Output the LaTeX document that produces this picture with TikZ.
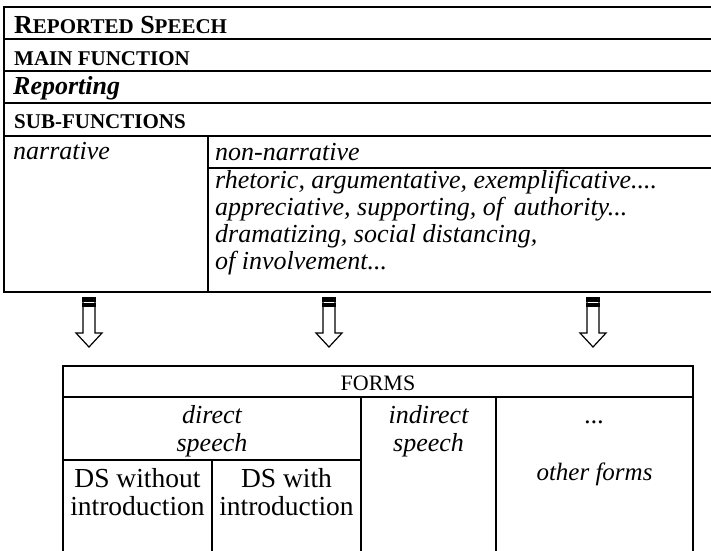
\documentclass[tikz,border=0pt]{standalone}
\usepackage{fontspec}
\setmainfont{Liberation Serif}
\tikzset{
  tline/.style={line width=2pt},
  iline/.style={line width=1.6pt},
  txt/.style={inner sep=0pt, anchor=base west, font=\fontsize{26}{26}\selectfont\itshape},
  ctxt/.style={inner sep=0pt, anchor=base, font=\fontsize{26}{26}\selectfont\itshape},
  rtxt/.style={inner sep=0pt, anchor=base, font=\fontsize{27.5}{27.5}\selectfont},
  hdr/.style={inner sep=0pt, anchor=base west, font=\fontsize{21}{21}\selectfont\bfseries},
  blockarrow/.pic={
    \draw[line width=1.2pt, fill=white] (-6,0) -- (-6,35) -- (-13,35) -- (0,49) -- (13,35) -- (6,35) -- (6,0) -- cycle;
    \fill (-6.6,-0.6) rectangle (6.6,3.6);
    \fill (-6.6,4.6) rectangle (6.6,8.7);
  }
}
\begin{document}
\begin{tikzpicture}[x=1pt,y=-1pt]
\fill[white] (0,0) rectangle (711,550);
\clip (0,0) rectangle (711,550);
% ---------- upper table ----------
\draw[tline] (720,7) -- (4,7) -- (4,292) -- (720,292);
\foreach \yy in {39,71,103,136} \draw[tline] (4,\yy) -- (720,\yy);
\draw[iline] (208,136) -- (208,292);
\draw[iline] (208,168) -- (720,168);
\node[inner sep=0pt, anchor=base west, font=\bfseries] (rs) at (14,33)
  {{\fontsize{26}{26}\selectfont R}{\fontsize{21}{21}\selectfont EPORTED}{\fontsize{26}{26}\selectfont\ S}{\fontsize{21}{21}\selectfont PEECH}};
\node[hdr] (mf) at (14,65) {MAIN FUNCTION};
\node[txt, font=\fontsize{26}{26}\selectfont\bfseries\itshape] (rep) at (13,94) {Reporting};
\node[hdr] (sf) at (14,128) {SUB-FUNCTIONS};
\node[txt] (nar) at (13,159) {narrative};
\node[txt] (nonnar) at (215,160) {non-narrative};
\node[txt] (l1) at (215,188) {rhetoric, argumentative, exemplificative....};
\node[txt] (l2) at (215,215) {appreciative, supporting, of\, authority...};
\node[txt] (l3) at (215,242) {dramatizing, social distancing,};
\node[txt] (l4) at (215,269) {of involvement...};
% ---------- arrows ----------
\pic at (89,298) {blockarrow};
\pic at (329,298) {blockarrow};
\pic at (593,298) {blockarrow};
% ---------- forms table ----------
\draw[tline] (63,560) -- (63,366) -- (693,366) -- (693,560);
\draw[tline] (63,397) -- (693,397);
\draw[iline] (361,397) -- (361,560);
\draw[iline] (496,397) -- (496,560);
\draw[iline] (63,460) -- (361,460);
\draw[iline] (212,460) -- (212,560);
\node[inner sep=0pt, anchor=base, font=\fontsize{22}{22}\selectfont] (forms) at (378,390) {FORMS};
\node[ctxt] (d1) at (212,423) {direct};
\node[ctxt] (d2) at (212,451) {speech};
\node[ctxt] (i1) at (428.5,423) {indirect};
\node[ctxt] (i2) at (428.5,451) {speech};
\node[ctxt] (dots) at (594.5,423) {...};
\node[ctxt, font=\fontsize{25}{25}\selectfont\itshape] (of) at (594.5,480) {other forms};
\node[rtxt] (w1) at (137.5,487) {DS without};
\node[rtxt] (w2) at (137.5,515) {introduction};
\node[rtxt] (h1) at (286.5,487) {DS with};
\node[rtxt] (h2) at (286.5,515) {introduction};
\end{tikzpicture}
\end{document}
